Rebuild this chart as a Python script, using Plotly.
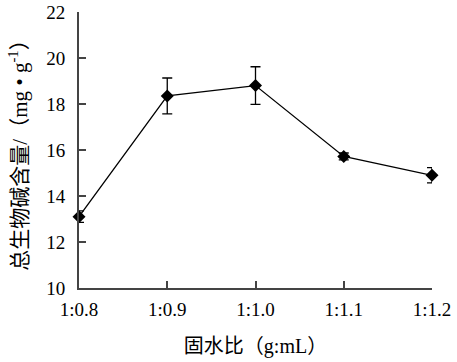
import plotly.graph_objects as go

categories = ["1:0.8", "1:0.9", "1:1.0", "1:1.1", "1:1.2"]
values = [13.1, 18.35, 18.8, 15.72, 14.9]
errors = [0.25, 0.78, 0.82, 0.15, 0.33]
y_ticks = [10, 12, 14, 16, 18, 20, 22]

serif = "Liberation Serif, Times New Roman, Noto Sans CJK SC, serif"
axis_color = "#444444"

fig = go.Figure()
fig.add_trace(go.Scatter(
    x=categories, y=values,
    mode="lines+markers",
    line=dict(color="black", width=1.3),
    marker=dict(symbol="diamond", size=10, color="black"),
    error_y=dict(type="data", array=errors, visible=True, color="black", thickness=1.3, width=5),
    cliponaxis=False,
    showlegend=False,
))

fig.update_layout(
    width=457, height=362,
    margin=dict(l=79, r=25, t=12, b=74),
    paper_bgcolor="white", plot_bgcolor="white",
    font=dict(family=serif, size=19, color="black"),
)
fig.update_xaxes(
    type="category", range=[0, 4], automargin=False,
    showline=True, linecolor=axis_color, linewidth=2,
    ticks="inside", ticklen=7, tickcolor=axis_color, tickwidth=1.5,
    ticklabelstandoff=3, ticklabeloverflow="allow",
    showgrid=False, zeroline=False,
    tickfont=dict(family=serif, size=19, color="black"),
    title=dict(text="固水比（g:mL）", font=dict(family=serif, size=20, color="black"), standoff=20),
)
fig.update_yaxes(
    range=[10, 22], tickvals=y_ticks, automargin=False,
    showline=True, linecolor=axis_color, linewidth=2,
    ticks="inside", ticklen=7, tickcolor=axis_color, tickwidth=1.5,
    ticklabelstandoff=8, ticklabeloverflow="allow",
    showgrid=False, zeroline=False,
    tickfont=dict(family=serif, size=19, color="black"),
    title=dict(text="总生物碱含量/（mg • g<sup>-1</sup>）", font=dict(family=serif, size=21, color="black"), standoff=13),
)

fig.write_html("out.html", config={"displayModeBar": False},
               post_script="document.body.style.margin='0';")
